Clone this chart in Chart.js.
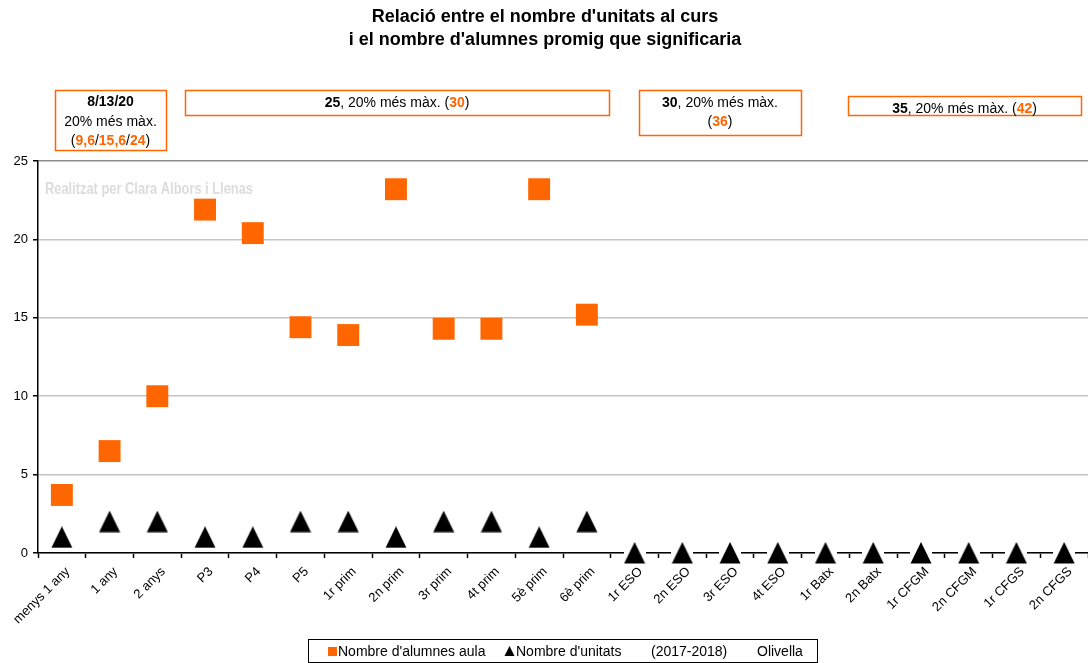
<!DOCTYPE html>
<html>
<head>
<meta charset="utf-8">
<script src="https://cdn.jsdelivr.net/npm/chart.js@4"></script>
<style>
  html, body { margin: 0; padding: 0; background: #fff; overflow: hidden; }
  #wrap { width: 1088px; height: 663px; }
  canvas { display: block; }
</style>
</head>
<body>
<div id="wrap"><canvas id="grafic"></canvas></div>
<script>
// dades llegides del grafic
var cursos = ["menys 1 any", "1 any", "2 anys", "P3", "P4", "P5", "1r prim", "2n prim", "3r prim", "4t prim", "5è prim", "6è prim",
  "1r ESO", "2n ESO", "3r ESO", "4t ESO", "1r Batx", "2n Batx", "1r CFGM", "2n CFGM", "1r CFGS", "2n CFGS"]
var alumnesAula = [3.7, 6.5, 10, 21.9, 20.4, 14.4, 13.9, 23.2, 14.3, 14.3, 23.2, 15.2,
  null, null, null, null, null, null, null, null, null, null]
var unitats = [1, 2, 2, 1, 1, 2, 2, 1, 2, 2, 1, 2, 0, 0, 0, 0, 0, 0, 0, 0, 0, 0]
var titol = ["Relació entre el nombre d'unitats al curs", "i el nombre d'alumnes promig que significaria"]
var marcaAigua = "Realitzat per Clara Albors i Llenas"
var llegenda = ["Nombre d'alumnes aula", "Nombre d'unitats", "(2017-2018)", "Olivella"]

var taronja = "#ff6600"
var FONT = "'Liberation Sans', Arial, Helvetica, sans-serif"

// caixes de text de dalt (trossos: [text, negreta, color])
var caixes = [
  { x: 55, y: 90, w: 111, h: 60, linies: [
    [["8/13/20", true, "#000"]],
    [["20% més màx.", false, "#000"]],
    [["(", false, "#000"], ["9,6", true, taronja], ["/", false, "#000"], ["15,6", true, taronja], ["/", false, "#000"], ["24", true, taronja], [")", false, "#000"]]
  ], ly: [102, 122, 141] },
  { x: 185, y: 90, w: 424, h: 25, linies: [
    [["25", true, "#000"], [", 20% més màx. (", false, "#000"], ["30", true, taronja], [")", false, "#000"]]
  ], ly: [103] },
  { x: 639, y: 90, w: 162, h: 45, linies: [
    [["30", true, "#000"], [", 20% més màx.", false, "#000"]],
    [["(", false, "#000"], ["36", true, taronja], [")", false, "#000"]]
  ], ly: [103, 122] },
  { x: 848, y: 96, w: 233, h: 19, linies: [
    [["35", true, "#000"], [", 20% més màx. (", false, "#000"], ["42", true, taronja], [")", false, "#000"]]
  ], ly: [109] }
]

// triangle negre amb fons blanc (tapa l'eix com a l'original)
var triangle = document.createElement("canvas")
triangle.width = 22
triangle.height = 22
var tctx = triangle.getContext("2d")
tctx.fillStyle = "#fff"
tctx.fillRect(0, 0, 22, 22)
tctx.fillStyle = "#000"
tctx.beginPath()
tctx.moveTo(11, 0)
tctx.lineTo(21.5, 21.5)
tctx.lineTo(0.5, 21.5)
tctx.closePath()
tctx.fill()

function liniaRica(ctx, trossos, cx, y) {
  var total = 0
  trossos.forEach(function (t) {
    ctx.font = (t[1] ? "bold " : "") + "14px " + FONT
    total += ctx.measureText(t[0]).width
  })
  var x = cx - total / 2
  trossos.forEach(function (t) {
    ctx.font = (t[1] ? "bold " : "") + "14px " + FONT
    ctx.fillStyle = t[2]
    ctx.fillText(t[0], x, y)
    x += ctx.measureText(t[0]).width
  })
}

var extres = {
  id: "extres",
  beforeDatasetsDraw: function (chart) {
    var ctx = chart.ctx
    ctx.save()
    ctx.font = "bold 16px " + FONT
    ctx.fillStyle = "#dcdcdc"
    ctx.textBaseline = "middle"
    ctx.textAlign = "left"
    var amplada = ctx.measureText(marcaAigua).width
    ctx.translate(45, 190)
    ctx.scale(208 / amplada, 1)
    ctx.fillText(marcaAigua, 0, 0)
    ctx.restore()
  },
  afterDraw: function (chart) {
    var ctx = chart.ctx
    ctx.save()
    // titol
    ctx.font = "bold 18px " + FONT
    ctx.fillStyle = "#000"
    ctx.textAlign = "center"
    ctx.textBaseline = "middle"
    ctx.fillText(titol[0], 545, 17)
    ctx.fillText(titol[1], 545, 40)

    // caixes
    ctx.textAlign = "left"
    caixes.forEach(function (c) {
      ctx.strokeStyle = taronja
      ctx.lineWidth = 1.5
      ctx.strokeRect(c.x + 0.5, c.y + 0.5, c.w, c.h)
      c.linies.forEach(function (l, i) {
        liniaRica(ctx, l, c.x + c.w / 2, c.ly[i])
      })
    })

    // llegenda
    ctx.strokeStyle = "#000"
    ctx.lineWidth = 1
    ctx.strokeRect(308.5, 639.5, 509, 23)
    ctx.font = "14px " + FONT
    ctx.fillStyle = taronja
    ctx.fillRect(328, 647, 9, 9)
    ctx.fillStyle = "#000"
    ctx.fillText(llegenda[0], 338, 652)
    ctx.beginPath()
    ctx.moveTo(509.5, 646)
    ctx.lineTo(514.5, 656)
    ctx.lineTo(504.5, 656)
    ctx.closePath()
    ctx.fill()
    ctx.fillText(llegenda[1], 516, 652)
    ctx.fillText(llegenda[2], 651, 652)
    ctx.fillText(llegenda[3], 757, 652)
    ctx.restore()
  }
}

var ctx = document.getElementById("grafic")
var grafic = new Chart(ctx, {
  type: "line",
  data: {
    labels: cursos,
    datasets: [{
      label: llegenda[0],
      data: alumnesAula,
      showLine: false,
      pointStyle: "rect",
      pointRadius: 15.5,
      pointHoverRadius: 15.5,
      pointBackgroundColor: taronja,
      pointBorderColor: taronja,
      pointBorderWidth: 0,
      clip: false
    }, {
      label: llegenda[1],
      data: unitats,
      showLine: false,
      pointStyle: triangle,
      pointRadius: 11,
      pointHoverRadius: 11,
      clip: false
    }]
  },
  options: {
    responsive: true,
    maintainAspectRatio: false,
    animation: false,
    events: [],
    layout: { autoPadding: false, padding: { top: 161, left: 0, right: 0, bottom: 0 } },
    plugins: {
      legend: { display: false },
      title: { display: false },
      tooltip: { enabled: false }
    },
    scales: {
      x: {
        offset: true,
        afterFit: function (scale) {
          scale.height = 110
          scale.paddingLeft = 0
          scale.paddingRight = 0
        },
        grid: {
          offset: true,
          drawOnChartArea: false,
          drawTicks: true,
          tickLength: 5,
          tickColor: "#000",
          tickWidth: 1.5
        },
        border: { color: "#000", width: 1.5 },
        ticks: {
          autoSkip: false,
          maxRotation: 45,
          minRotation: 45,
          padding: 6,
          labelOffset: 6,
          color: "#000",
          font: { family: FONT, size: 13 }
        }
      },
      y: {
        min: 0,
        max: 25,
        afterFit: function (scale) {
          scale.width = 38
          scale.paddingTop = 0
          scale.paddingBottom = 0
        },
        grid: {
          color: function (c) { return c.tick && c.tick.value === 25 ? "#8c8c8c" : "#c4c4c4" },
          lineWidth: 1.5,
          tickLength: 5,
          tickColor: "#000"
        },
        border: { color: "#000", width: 1.5 },
        ticks: {
          stepSize: 5,
          padding: 5,
          color: "#000",
          font: { family: FONT, size: 13 }
        }
      }
    }
  },
  plugins: [extres]
})
</script>
</body>
</html>
